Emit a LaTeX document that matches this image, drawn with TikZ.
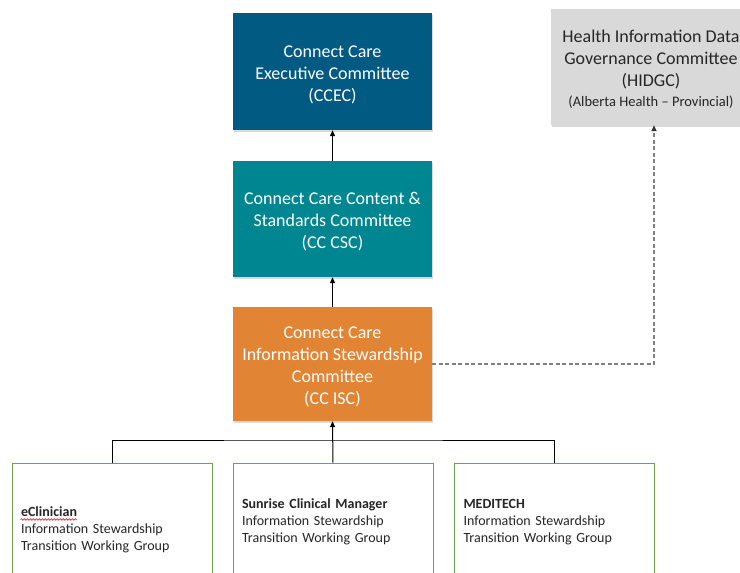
\documentclass[tikz,border=0pt]{standalone}
\usepackage{fontspec}
\setmainfont{Carlito}
\usetikzlibrary{arrows.meta,shadows,decorations.pathmorphing}

\definecolor{ccecblue}{RGB}{0,90,130}
\definecolor{cscteal}{RGB}{0,134,144}
\definecolor{iscorange}{RGB}{225,133,52}
\definecolor{govgrey}{RGB}{217,217,217}
\definecolor{wggreen}{RGB}{112,160,80}
\definecolor{dashgrey}{RGB}{128,128,128}
\definecolor{inkdark}{RGB}{38,38,38}

% extra room above a first line, pushing a block of text down by half of it
\newcommand\padtop[2]{\raisebox{0pt}[\dimexpr\height+#1\relax]{#2}}

\begin{document}
\begin{tikzpicture}[x=1pt,y=-1pt,
  softshadow/.style={drop shadow={opacity=0.3,shadow xshift=1pt,shadow yshift=-1.5pt}},
  committee/.style={rectangle, minimum width=199pt, inner sep=0pt, text=white,
    align=center, font=\fontsize{18}{22}\selectfont, softshadow},
  govbox/.style={committee, fill=govgrey, text=inkdark},
  wgbox/.style={rectangle, draw=wggreen, line width=1pt, fill=white,
    minimum width=200pt, text width=182pt, inner xsep=9pt, inner ysep=0pt,
    align=left, text=inkdark, font=\fontsize{14}{17}\selectfont},
  link/.style={draw=black, line width=1pt},
  flow/.style={link, -{Triangle[length=6pt,width=5pt]}},
  dashflow/.style={draw=dashgrey, line width=1.4pt, dash pattern=on 4pt off 2.5pt,
    -{Triangle[length=6pt,width=5pt,color=black!80]}},
  spellmark/.style={draw=red, line width=0.6pt,
    decorate, decoration={snake, segment length=3pt, amplitude=0.8pt}}
]
\useasboundingbox (0,0) rectangle (740,573);
\clip (0,0) rectangle (740,573);

% committee chain
\node[committee, fill=ccecblue, minimum height=117pt] (ccec) at (332.5,71.5)
  {\padtop{6pt}{Connect Care}\\Executive Committee\\(CCEC)};
\node[committee, fill=cscteal, minimum height=116pt] (csc) at (332.5,219)
  {\padtop{6pt}{Connect Care Content \&}\\Standards Committee\\(CC CSC)};
\node[committee, fill=iscorange, minimum height=114pt] (isc) at (332.5,364)
  {\padtop{6pt}{Connect Care}\\Information Stewardship\\Committee\\(CC ISC)};

% provincial governance committee
\node[govbox, minimum width=200pt, minimum height=116pt] (hidgc) at (651,67)
  {\padtop{4pt}{Health Information Data}\\Governance Committee\\(HIDGC)\\[-2pt]{\fontsize{14.5}{17}\selectfont(Alberta Health -- Provincial)}};

% transition working groups
\node[wgbox, minimum height=130pt] (ecl) at (112,528)
  {\padtop{4pt}{\textbf{eClinician}}\\Information Stewardship\\Transition Working Group};
\node[wgbox, minimum height=114pt] (scm) at (333,520)
  {\padtop{4pt}{\textbf{Sunrise Clinical Manager}}\\Information Stewardship\\Transition Working Group};
\node[wgbox, minimum height=114pt] (mtc) at (554.5,520)
  {\padtop{4pt}{\textbf{MEDITECH}}\\Information Stewardship\\Transition Working Group};

% spell-check underline below the first word
\draw[spellmark] ([shift={(9,-8.5)}]ecl.west) -- ([shift={(65,-8.5)}]ecl.west);

% reporting lines
\draw[flow] (csc.north) -- (ccec.south);
\draw[flow] (isc.north) -- (csc.south);

\coordinate (bus) at (333,440);
\draw[link] (ecl.north) |- (bus) -| (mtc.north);
\draw[flow] (scm.north) -- (isc.south);

\draw[dashflow] (isc.east) -| ([xshift=3pt]hidgc.south);
\end{tikzpicture}
\end{document}
